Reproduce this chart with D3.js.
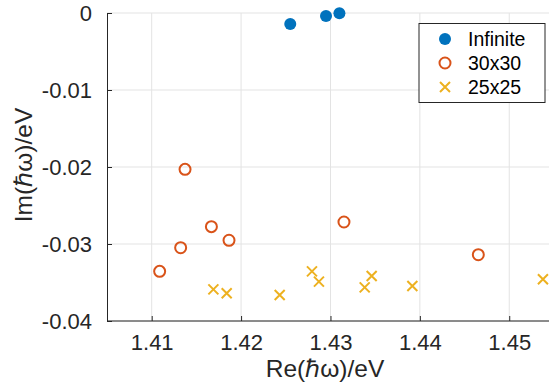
<!DOCTYPE html>
<html>
<head>
<meta charset="utf-8">
<script src="https://cdn.jsdelivr.net/npm/d3@7"></script>
<style>
  body { margin: 0; background: #fff; }
  svg { display: block; font-family: "Liberation Sans", Arial, sans-serif; }
  .grid line { stroke: #e3e3e3; stroke-width: 1; }
  .axis path, .axis line { stroke: #262626; }
  .axis text { fill: #262626; font-size: 22px; }
</style>
</head>
<body>
<div id="chart"></div>
<script>
// data
const infinite = [
  [1.4255, -0.00143],
  [1.4295, -0.00039],
  [1.4310, -0.00002]
];
const grid30 = [
  [1.41373, -0.0203],
  [1.41089, -0.03355],
  [1.41324, -0.03048],
  [1.41668, -0.02775],
  [1.41865, -0.02952],
  [1.43151, -0.02714],
  [1.44654, -0.03139]
];
const grid25 = [
  [1.4169, -0.03589],
  [1.41839, -0.0364],
  [1.42432, -0.03662],
  [1.42793, -0.03355],
  [1.42871, -0.03489],
  [1.43383, -0.03563],
  [1.43461, -0.03416],
  [1.43916, -0.03545],
  [1.45377, -0.03458]
];
const xTicks = [1.41, 1.42, 1.43, 1.44, 1.45];
const yTicks = [0, -0.01, -0.02, -0.03, -0.04];
const seriesNames = ["Infinite", "30x30", "25x25"];
const colors = ["#0072BD", "#D95319", "#EDB120"];

//size
const width = 549, height = 389;
const margin = { top: 13, left: 107, right: 4, bottom: 68 };
const innerWidth = width - margin.left - margin.right;
const innerHeight = height - margin.top - margin.bottom;

//scale
const xScale = d3.scaleLinear().domain([1.405, 1.454]).range([0, innerWidth]);
const yScale = d3.scaleLinear().domain([-0.04, 0]).range([innerHeight, 0]);

const svg = d3.select("#chart").append("svg")
  .attr("width", width).attr("height", height);
const g = svg.append("g").attr("transform", `translate(${margin.left},${margin.top})`);

//grid
g.append("g").attr("class", "grid")
  .selectAll("line.v").data(xTicks).join("line")
  .attr("x1", (d) => xScale(d)).attr("x2", (d) => xScale(d))
  .attr("y1", 0).attr("y2", innerHeight);
g.select(".grid")
  .selectAll("line.h").data(yTicks).join("line").attr("class", "h")
  .attr("x1", 0).attr("x2", innerWidth + 10)
  .attr("y1", (d) => yScale(d)).attr("y2", (d) => yScale(d));

//axes
g.append("g").attr("class", "axis x-axis")
  .attr("transform", `translate(0,${innerHeight})`)
  .call(d3.axisBottom(xScale).tickValues(xTicks).tickSize(-5).tickSizeOuter(0)
    .tickPadding(13).tickFormat(d3.format(".2f")))
  .call((a) => a.select(".domain").attr("d", `M0,0H${innerWidth + 10}`));

g.append("g").attr("class", "axis y-axis")
  .call(d3.axisLeft(yScale).tickValues(yTicks).tickSize(-5).tickSizeOuter(0)
    .tickPadding(15).tickFormat((d) => d === 0 ? "0" : d3.format(".2f")(d).replace("−", "-")))
  .call((a) => a.selectAll("text").attr("dy", "0.34em"));

//axis labels
svg.append("text")
  .attr("x", 325).attr("y", 377)
  .attr("text-anchor", "middle").attr("font-size", 24.5).attr("fill", "#262626")
  .text("Re(ℏω)/eV");
svg.append("text")
  .attr("transform", `translate(32,${margin.top + innerHeight / 2 - 2}) rotate(-90)`)
  .attr("text-anchor", "middle").attr("font-size", 24.5).attr("fill", "#262626")
  .text("Im(ℏω)/eV");

//marks
const marks = g.append("g").attr("class", "mark");
marks.selectAll("circle.inf").data(infinite).join("circle")
  .attr("class", "inf")
  .attr("cx", (d) => xScale(d[0])).attr("cy", (d) => yScale(d[1]))
  .attr("r", 6).attr("fill", colors[0]);
marks.selectAll("circle.g30").data(grid30).join("circle")
  .attr("class", "g30")
  .attr("cx", (d) => xScale(d[0])).attr("cy", (d) => yScale(d[1]))
  .attr("r", 5.5).attr("fill", "none").attr("stroke", colors[1]).attr("stroke-width", 2);
const cross = "M-5,-5L5,5M-5,5L5,-5";
marks.selectAll("path.g25").data(grid25).join("path")
  .attr("class", "g25")
  .attr("transform", (d) => `translate(${xScale(d[0])},${yScale(d[1])})`)
  .attr("d", cross).attr("fill", "none").attr("stroke", colors[2]).attr("stroke-width", 2);

//legend
const legend = svg.append("g").attr("transform", "translate(419,23.5)");
legend.append("rect").attr("width", 126).attr("height", 79)
  .attr("fill", "#fff").attr("stroke", "#262626").attr("stroke-width", 1);
const item = legend.selectAll("g.item").data(seriesNames).join("g")
  .attr("class", "item")
  .attr("transform", (d, i) => `translate(26,${15.5 + i * 24})`);
item.each(function (d, i) {
  const s = d3.select(this);
  if (i === 0) s.append("circle").attr("r", 6).attr("fill", colors[0]);
  else if (i === 1) s.append("circle").attr("r", 5.5).attr("fill", "none")
    .attr("stroke", colors[1]).attr("stroke-width", 2);
  else s.append("path").attr("d", cross).attr("fill", "none")
    .attr("stroke", colors[2]).attr("stroke-width", 2);
});
item.append("text").attr("x", 23).attr("dy", "0.35em")
  .attr("font-size", 19.5).attr("fill", "#000").text((d) => d);
</script>
</body>
</html>
